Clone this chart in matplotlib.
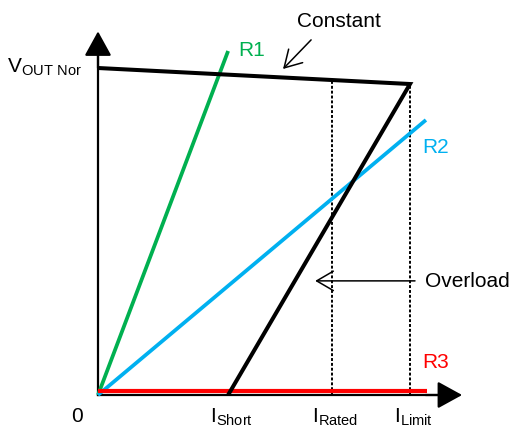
import numpy as np
import matplotlib.pyplot as plt

plt.rcParams['font.family'] = 'Liberation Sans'
plt.rcParams['mathtext.fontset'] = 'custom'
plt.rcParams['mathtext.rm'] = 'Liberation Sans'

# current positions (I_Limit = 1) and output voltage (V_OUT Nor = 1)
i_short = 0.417
i_rated = 0.75
i_limit = 1.0
v_nor = 1.0
v_at_limit = 0.951

# black characteristic: constant part then overload foldback
char_x = [0.0, i_limit, i_short]
char_y = [v_nor, v_at_limit, 0.0]

# load lines
r1_x = [0.0, 0.417]
r1_y = [0.0, 1.052]
r2_x = [0.0, 1.051]
r2_y = [0.0, 0.841]
r3_x = [0.0, 1.054]
r3_y = [0.012, 0.012]

tick_pos = [i_short, i_rated, i_limit]
tick_names = ['Short', 'Rated', 'Limit']

fig = plt.figure(figsize=(5.15, 4.27), dpi=100)
ax = fig.add_axes([0, 0, 1, 1])
ax.set_xlim(-0.3141, 1.3365)
ax.set_ylim(-0.0948, 1.211)
ax.axis('off')

# axes with arrow heads
ax.plot([0, 0], [0, 1.06], color='black', lw=1.6)
ax.plot([0, 1.10], [0, 0], color='black', lw=1.6)
ax.annotate('', xy=(0, 1.112), xytext=(0, 1.0),
            arrowprops=dict(arrowstyle='-|>,head_length=0.4,head_width=0.22',
                            color='black', lw=1.6, mutation_scale=38, shrinkA=0, shrinkB=0))
ax.annotate('', xy=(1.167, 0), xytext=(1.05, 0),
            arrowprops=dict(arrowstyle='-|>,head_length=0.4,head_width=0.22',
                            color='black', lw=1.6, mutation_scale=38, shrinkA=0, shrinkB=0))

# dotted verticals
for xv in [i_rated, i_limit]:
    top = np.interp(xv, char_x[:2], char_y[:2])
    ax.plot([xv, xv], [0, top], color='black', lw=1.4, ls=(0, (1.5, 1.0)))

ax.plot(r1_x, r1_y, color='#00B050', lw=2.7, solid_capstyle='butt')
ax.plot(r2_x, r2_y, color='#00B0F0', lw=2.7, solid_capstyle='butt')
ax.plot(r3_x, r3_y, color='#FF0000', lw=3.0, solid_capstyle='butt')
ax.plot(char_x, char_y, color='black', lw=2.9, solid_joinstyle='miter', solid_capstyle='butt')

fs = 15
ax.text(0.449, 1.058, 'R1', color='#00B050', fontsize=fs, ha='left', va='center')
ax.text(1.038, 0.761, 'R2', color='#00B0F0', fontsize=fs, ha='left', va='center')
ax.text(1.038, 0.101, 'R3', color='#FF0000', fontsize=fs, ha='left', va='center')

ax.text(0.772, 1.144, 'Constant', fontsize=fs, ha='center', va='center')
ax.annotate('', xy=(0.593, 0.997), xytext=(0.683, 1.086),
            arrowprops=dict(arrowstyle='->,head_length=0.6,head_width=0.35',
                            color='black', lw=1.1, mutation_scale=20, shrinkA=0, shrinkB=0))
ax.text(1.048, 0.349, 'Overload', fontsize=fs, ha='left', va='center')
ax.annotate('', xy=(0.696, 0.349), xytext=(1.016, 0.349),
            arrowprops=dict(arrowstyle='->,head_length=0.6,head_width=0.35',
                            color='black', lw=1.1, mutation_scale=20, shrinkA=0, shrinkB=0))

ax.text(-0.051, 0.991, r'V$_{\mathrm{OUT\ Nor}}$', fontsize=fs, ha='right', va='baseline')
ax.text(-0.067, -0.0795, '0', fontsize=fs, ha='center', va='baseline')
for xp, nm in zip(tick_pos, tick_names):
    ax.text(xp + 0.01, -0.0795, r'I$_{\mathrm{%s}}$' % nm, fontsize=fs, ha='center', va='baseline')

fig.savefig('out.png', dpi=100)
